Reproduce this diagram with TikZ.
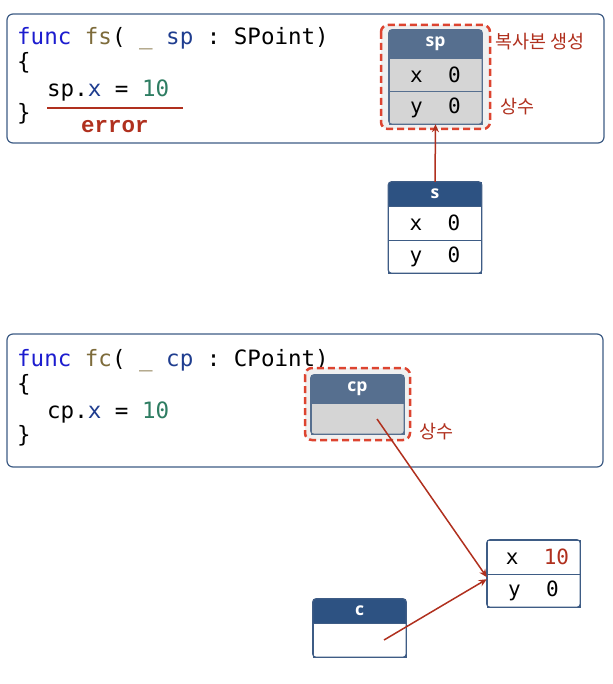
\documentclass[tikz,border=0pt]{standalone}
\usepackage{fontspec}
\setmainfont{Open Sans}
\setmonofont{DejaVu Sans Mono}
\newfontfamily\kofont{Noto Sans CJK KR}
\newfontfamily\errfont{Liberation Mono}
\usetikzlibrary{arrows.meta}

\definecolor{framecol}{HTML}{3E5C85}
\definecolor{hdrdark}{HTML}{2D5282}
\definecolor{hdrlight}{HTML}{566F8F}
\definecolor{cellgray}{HTML}{D5D5D5}
\definecolor{dashred}{HTML}{DD4430}
\definecolor{notered}{HTML}{B0301E}
\definecolor{kwblue}{HTML}{1C1CCF}
\definecolor{fncol}{HTML}{7D6B3A}
\definecolor{varblue}{HTML}{1F3D8F}
\definecolor{numgreen}{HTML}{2E7D62}

\tikzset{
  codebox/.style={draw=framecol, line width=1.2pt, rounded corners=6pt, fill=white},
  code/.style={anchor=base west, inner sep=0, font=\ttfamily\fontsize{22.5}{25}\selectfont},
  hdr/.style={rectangle, fill=hdrdark, text=white, inner sep=0, minimum width=93,
    font=\bfseries\fontsize{17.5}{20}\selectfont},
  cell/.style={rectangle, draw=framecol, fill=white, inner sep=0, minimum width=93,
    font=\ttfamily\fontsize{21}{24}\selectfont},
  constbox/.style={draw=dashred, line width=2.5pt, dash pattern=on 7pt off 4pt,
    rounded corners=7pt, fill=gray!12},
  note/.style={text=notered, anchor=west, inner sep=0, font=\kofont\fontsize{18.5}{20}\selectfont},
  refarrow/.style={draw=notered, line width=1.5pt, -{Stealth[length=8pt,width=7pt]}}
}

\begin{document}
\begin{tikzpicture}[x=1pt, y=-1pt]
  \useasboundingbox (0,0) rectangle (612,684);

  % 구조체 (struct) 쪽
  \draw[codebox] (7,14) rectangle (604,143);
  \node[code] (fsline1) at (17,45) {\textcolor{kwblue}{func} \textcolor{fncol}{fs}( \textcolor{fncol}{\_} \textcolor{varblue}{sp} : SPoint)};
  \node[code] (fsline2) at (17,70) {\{};
  \node[code] (fsline3) at (47,97) {sp.\textcolor{varblue}{x} = \textcolor{numgreen}{10}};
  \node[code] (fsline4) at (17,121) {\}};
  \draw[notered, line width=1.2pt] (47,108) -- (183,108);
  \node[text=notered, font=\errfont\bfseries\fontsize{22.5}{24}\selectfont, anchor=base, inner sep=0]
    (fserr) at (115,133) {error};

  % 복사본 sp
  \draw[constbox] (381,25) rectangle (490,129);
  \node[hdr, fill=hdrlight, minimum height=28] (sphead) at (435.5,44) {sp};
  \node[cell, draw=hdrlight, fill=cellgray, minimum height=33] (spx) at (435.5,74.5) {x~~0};
  \node[cell, draw=hdrlight, fill=cellgray, minimum height=33] (spy) at (435.5,107.5) {y~~0};
  \draw[hdrlight, line width=1.2pt, rounded corners=3pt] (sphead.north west) rectangle (spy.south east);
  \node[note] (spcopy) at (495,42) {복사본 생성};
  \node[note] (spconst) at (500,107) {상수};

  % 원본 s
  \node[hdr, minimum height=24] (shead) at (435,194) {s};
  \node[cell, minimum height=34] (sx) at (435,223) {x~~0};
  \node[cell, minimum height=33] (sy) at (435,256.5) {y~~0};
  \draw[framecol, line width=1.2pt, rounded corners=3pt] (shead.north west) rectangle (sy.south east);
  \draw[refarrow] (shead.north) -- (spy.south);

  % 클래스 (class) 쪽
  \draw[codebox] (7,334) rectangle (603,467);
  \node[code] (fcline1) at (17,366) {\textcolor{kwblue}{func} \textcolor{fncol}{fc}( \textcolor{fncol}{\_} \textcolor{varblue}{cp} : CPoint)};
  \node[code] (fcline2) at (17,391) {\{};
  \node[code] (fcline3) at (47,418) {cp.\textcolor{varblue}{x} = \textcolor{numgreen}{10}};
  \node[code] (fcline4) at (17,442) {\}};

  % 참조 cp
  \draw[constbox] (305,368) rectangle (410,440);
  \node[hdr, fill=hdrlight, minimum height=28] (cphead) at (357.5,389) {cp};
  \node[cell, draw=hdrlight, fill=cellgray, minimum height=31] (cpref) at (357.5,418.5) {};
  \draw[hdrlight, line width=1.2pt, rounded corners=3pt] (cphead.north west) rectangle (cpref.south east);
  \node[note] (cpconst) at (419,432) {상수};

  % 인스턴스
  \node[cell, minimum height=34] (ptx) at (533.5,557) {\hspace*{8pt}x~~\textcolor{notered}{10}};
  \node[cell, minimum height=33] (pty) at (533.5,590.5) {y~~0};
  \draw[framecol, line width=1.2pt, rounded corners=3pt] (ptx.north west) rectangle (pty.south east);

  % 변수 c
  \node[hdr, minimum height=24] (chead) at (359.5,611) {c};
  \node[cell, minimum height=34] (cref) at (359.5,640) {};
  \draw[framecol, line width=1.2pt, rounded corners=3pt] (chead.north west) rectangle (cref.south east);

  \coordinate (cpfrom) at (377,419);
  \coordinate (cfrom) at (384,640);
  \draw[refarrow] (cpfrom) -- ([yshift=-3]ptx.south west);
  \draw[refarrow] (cfrom) -- ([yshift=-5]ptx.south west);
\end{tikzpicture}
\end{document}
